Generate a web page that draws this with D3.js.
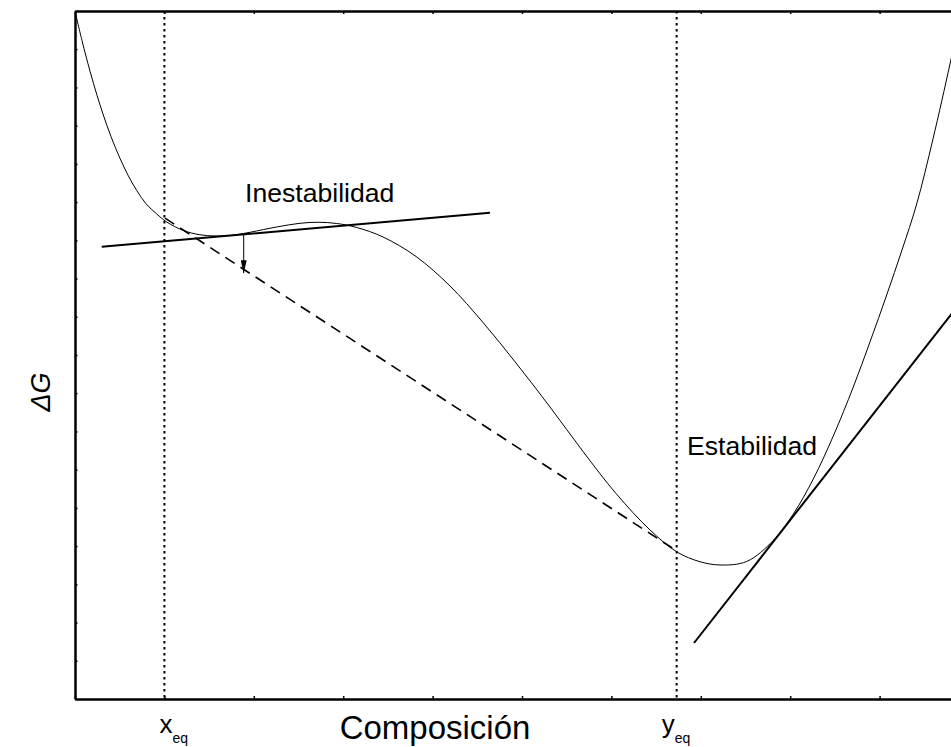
<!DOCTYPE html>
<html>
<head>
<meta charset="utf-8">
<script src="https://cdn.jsdelivr.net/npm/d3@7"></script>
<style>
  html, body { margin: 0; padding: 0; background: #fff; }
  svg { display: block; font-family: Arial, "Liberation Sans", sans-serif; }
</style>
</head>
<body>
<svg id="chart" width="951" height="747"></svg>
<script>
// ---- data (composition fraction, ΔG arbitrary units) ----
const curveX = [0, 0.00783, 0.01678, 0.02461, 0.03166, 0.04027, 0.05034, 0.05928, 0.06902, 0.07942, 0.09139, 0.10257, 0.12114, 0.13982, 0.15660, 0.17338, 0.19575, 0.22562, 0.25168, 0.27181, 0.29273, 0.31510, 0.34452, 0.38143, 0.41946, 0.45638, 0.49329, 0.53132, 0.56823, 0.60515, 0.64318, 0.67338, 0.69911, 0.72148, 0.75134, 0.78110, 0.80347, 0.82584, 0.84821, 0.87058, 0.88926, 0.90794, 0.92506, 0.94150, 0.95973, 0.97875, 0.99161];
const curveG = [18.0, 17.226, 16.426, 15.795, 15.280, 14.715, 14.144, 13.705, 13.305, 12.957, 12.690, 12.480, 12.258, 12.145, 12.114, 12.125, 12.211, 12.350, 12.446, 12.473, 12.441, 12.336, 12.088, 11.578, 10.806, 9.851, 8.791, 7.640, 6.476, 5.377, 4.422, 3.846, 3.592, 3.506, 3.598, 4.147, 4.840, 5.756, 6.881, 8.163, 9.341, 10.570, 11.748, 12.951, 14.652, 16.614, 18.0];

const tangentUnstableX = [0.0299, 0.4642];
const tangentUnstableG = [11.83, 12.72];
const commonTangentX = [0.1007, 0.6734];
const commonTangentG = [12.58, 3.87];
const tangentStableX = [0.6924, 1.0];
const tangentStableG = [1.465, 10.66];
const arrowX = [0.1887, 0.1887];
const arrowG = [12.16, 11.14];

const xEq = 0.1;
const yEq = 0.673;
const xTicks = d3.range(0, 1.0001, 0.1);
const yTicks = d3.range(0, 18.0001, 1);

const labelX = "Composición";
const labelY = "ΔG";
const labelUnstable = "Inestabilidad";
const labelStable = "Estabilidad";

// ---- layout ----
const svg = d3.select("#chart");
const mLeft = 75, mRight = 969, mTop = 11, mBottom = 699;
const x = d3.scaleLinear().domain([0, 1]).range([mLeft, mRight]);
const y = d3.scaleLinear().domain([0, 18]).range([mBottom, mTop]);

const defs = svg.append("defs");
defs.append("clipPath").attr("id", "clip")
  .append("rect").attr("x", mLeft).attr("y", mTop).attr("width", mRight - mLeft).attr("height", mBottom - mTop);
defs.append("marker")
  .attr("id", "arrowhead").attr("viewBox", "0 0 10 10")
  .attr("refX", 10).attr("refY", 5)
  .attr("markerWidth", 13).attr("markerHeight", 6)
  .attr("markerUnits", "userSpaceOnUse")
  .attr("orient", "auto")
  .attr("preserveAspectRatio", "none")
  .append("path").attr("d", "M0,0 L10,5 L0,10 Z").attr("fill", "#000");

const plot = svg.append("g").attr("clip-path", "url(#clip)");

// dotted verticals
[xEq, yEq].forEach(v => {
  plot.append("line")
    .attr("x1", x(v)).attr("x2", x(v)).attr("y1", mTop).attr("y2", mBottom)
    .attr("stroke", "#000").attr("stroke-width", 2)
    .attr("stroke-dasharray", "2.5,3.5");
});

const line = d3.line().x(d => x(d[0])).y(d => y(d[1]));
const smooth = d3.line().x(d => x(d[0])).y(d => y(d[1])).curve(d3.curveCatmullRom.alpha(0.5));

// main curve
plot.append("path")
  .datum(curveX.map((v, i) => [v, curveG[i]]))
  .attr("d", smooth)
  .attr("fill", "none").attr("stroke", "#000").attr("stroke-width", 1);

// dashed common tangent
plot.append("path")
  .datum(commonTangentX.map((v, i) => [v, commonTangentG[i]]))
  .attr("d", line)
  .attr("fill", "none").attr("stroke", "#000").attr("stroke-width", 1.6)
  .attr("stroke-dasharray", "11,7");

// tangent lines
[[tangentUnstableX, tangentUnstableG], [tangentStableX, tangentStableG]].forEach(([xs, gs]) => {
  plot.append("path")
    .datum(xs.map((v, i) => [v, gs[i]]))
    .attr("d", line)
    .attr("fill", "none").attr("stroke", "#000").attr("stroke-width", 2);
});

// arrow
plot.append("path")
  .datum(arrowX.map((v, i) => [v, arrowG[i]]))
  .attr("d", line)
  .attr("fill", "none").attr("stroke", "#000").attr("stroke-width", 1)
  .attr("marker-end", "url(#arrowhead)");

// axes
function styleAxis(g) {
  g.select(".domain").attr("stroke", "#000").attr("stroke-width", 2.5);
  g.selectAll(".tick line").attr("stroke", "#000").attr("stroke-width", 1.5);
}
svg.append("g").attr("transform", `translate(0,${mBottom})`)
  .call(d3.axisBottom(x).tickValues(xTicks).tickSizeInner(-3).tickSizeOuter(0).tickFormat(""))
  .call(styleAxis);
svg.append("g").attr("transform", `translate(0,${mTop})`)
  .call(d3.axisTop(x).tickValues(xTicks).tickSizeInner(-3).tickSizeOuter(0).tickFormat(""))
  .call(styleAxis);
svg.append("g").attr("transform", `translate(${mLeft},0)`)
  .call(d3.axisLeft(y).tickValues(yTicks).tickSizeInner(-2.5).tickSizeOuter(0).tickFormat(""))
  .call(styleAxis);
svg.append("g").attr("transform", `translate(${mRight},0)`)
  .call(d3.axisRight(y).tickValues(yTicks).tickSizeInner(-2.5).tickSizeOuter(0).tickFormat(""))
  .call(styleAxis);

// texts
svg.append("text").attr("x", 245).attr("y", 202)
  .attr("font-size", 26.6).text(labelUnstable);
svg.append("text").attr("x", 687).attr("y", 455)
  .attr("font-size", 26.6).text(labelStable);

svg.append("text").attr("x", 435).attr("y", 739)
  .attr("text-anchor", "middle").attr("font-size", 33).text(labelX);

svg.append("text")
  .attr("transform", "translate(50,392) rotate(-90)")
  .attr("text-anchor", "middle").attr("font-size", 27).attr("font-style", "italic")
  .text(labelY);

function eqLabel(v, letter, dx) {
  const t = svg.append("text").attr("x", x(v) + dx).attr("y", 733).attr("font-size", 26);
  t.append("tspan").text(letter);
  t.append("tspan").attr("dy", 10).attr("font-size", 14).text("eq");
}
eqLabel(xEq, "x", -5);
eqLabel(yEq, "y", -15);
</script>
</body>
</html>
